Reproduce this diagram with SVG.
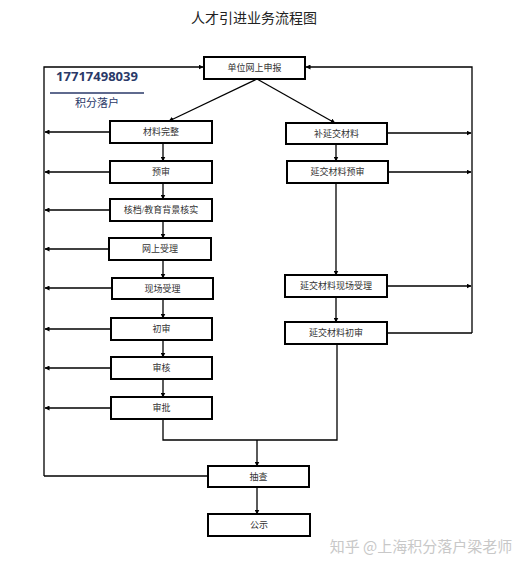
<svg xmlns="http://www.w3.org/2000/svg" width="528" height="566" viewBox="0 0 528 566">
<defs>
<marker id="ah" viewBox="0 0 10 10" refX="9" refY="5" markerWidth="5" markerHeight="5" orient="auto-start-reverse" markerUnits="userSpaceOnUse">
<path d="M0,0 L10,5 L0,10 z" fill="#000"/>
</marker>
<style>
.box{fill:#fff;stroke:#000;stroke-width:2}
.lbl{font-family:"Liberation Serif","Noto Sans CJK SC",serif;font-size:9px;fill:#333;text-anchor:middle;dominant-baseline:central}
.ln{fill:none;stroke:#000;stroke-width:1.3}
.arr{fill:none;stroke:#000;stroke-width:1.3;marker-end:url(#ah)}
</style>
</defs>
<rect width="528" height="566" fill="#fff"/>
<text x="254" y="18" font-family="Liberation Serif, Noto Sans CJK SC, serif" font-size="14" text-anchor="middle" dominant-baseline="central" fill="#222">人才引进业务流程图</text>
<g id="watermark1">
<text x="97" y="81" font-family="Open Sans, Liberation Sans, sans-serif" font-weight="bold" font-size="13" text-anchor="middle" fill="#2a3968">17717498039</text>
<line x1="50" y1="93" x2="144" y2="93" stroke="#2a3968" stroke-width="1.5"/>
<text x="97" y="102" font-family="Noto Sans CJK SC, sans-serif" font-size="11" text-anchor="middle" dominant-baseline="central" fill="#2a3968">积分落户</text>
</g>
<g id="connectors">
<polyline class="arr" points="44,476 44,67 203,67"/>
<polyline class="arr" points="472,333 472,67 306,67"/>
<line class="arr" x1="257" y1="79" x2="169" y2="121"/>
<line class="arr" x1="257" y1="79" x2="335" y2="123"/>
<line class="arr" x1="110" y1="132" x2="45" y2="132"/>
<line class="arr" x1="110" y1="172" x2="45" y2="172"/>
<line class="arr" x1="110" y1="210" x2="45" y2="210"/>
<line class="arr" x1="110" y1="249" x2="45" y2="249"/>
<line class="arr" x1="112" y1="288" x2="45" y2="288"/>
<line class="arr" x1="111" y1="329" x2="45" y2="329"/>
<line class="arr" x1="111" y1="368" x2="45" y2="368"/>
<line class="arr" x1="111" y1="408" x2="45" y2="408"/>
<line class="arr" x1="163" y1="143" x2="163" y2="161"/>
<line class="arr" x1="163" y1="183" x2="163" y2="199"/>
<line class="arr" x1="163" y1="221" x2="163" y2="238"/>
<line class="arr" x1="163" y1="260" x2="163" y2="278"/>
<line class="arr" x1="163" y1="299" x2="163" y2="318"/>
<line class="arr" x1="163" y1="340" x2="163" y2="357"/>
<line class="arr" x1="163" y1="379" x2="163" y2="397"/>
<line class="arr" x1="387" y1="133" x2="471" y2="133"/>
<line class="arr" x1="388" y1="172" x2="471" y2="172"/>
<line class="arr" x1="387" y1="286" x2="471" y2="286"/>
<line class="ln" x1="387" y1="333" x2="472" y2="333"/>
<line class="arr" x1="336" y1="144" x2="336" y2="161"/>
<line class="arr" x1="336" y1="183" x2="336" y2="275"/>
<line class="arr" x1="336" y1="297" x2="336" y2="322"/>
<polyline class="ln" points="163,419 163,440 337,440 337,344"/>
<line class="arr" x1="257" y1="440" x2="257" y2="466"/>
<line class="ln" x1="208" y1="476" x2="44" y2="476"/>
<line class="arr" x1="257" y1="487" x2="257" y2="514"/>
</g>
<g id="n-top"><rect class="box" x="204" y="57" width="101" height="22"/><text class="lbl" x="254.5" y="68">单位网上申报</text></g>
<g id="n-l1"><rect class="box" x="110" y="121" width="102" height="22"/><text class="lbl" x="161" y="132">材料完整</text></g>
<g id="n-l2"><rect class="box" x="110" y="161" width="102" height="22"/><text class="lbl" x="161" y="172">预审</text></g>
<g id="n-l3"><rect class="box" x="110" y="199" width="102" height="22"/><text class="lbl" x="161" y="210">核档/教育背景核实</text></g>
<g id="n-l4"><rect class="box" x="109" y="238" width="102" height="22"/><text class="lbl" x="160" y="249">网上受理</text></g>
<g id="n-l5"><rect class="box" x="112" y="278" width="101" height="21"/><text class="lbl" x="162.5" y="288.5">现场受理</text></g>
<g id="n-l6"><rect class="box" x="111" y="318" width="101" height="22"/><text class="lbl" x="161.5" y="329">初审</text></g>
<g id="n-l7"><rect class="box" x="111" y="357" width="101" height="22"/><text class="lbl" x="161.5" y="368">审核</text></g>
<g id="n-l8"><rect class="box" x="111" y="397" width="101" height="22"/><text class="lbl" x="161.5" y="408">审批</text></g>
<g id="n-r1"><rect class="box" x="286" y="123" width="101" height="21"/><text class="lbl" x="336.5" y="133.5">补延交材料</text></g>
<g id="n-r2"><rect class="box" x="287" y="161" width="101" height="22"/><text class="lbl" x="337.5" y="172">延交材料预审</text></g>
<g id="n-r3"><rect class="box" x="285" y="275" width="102" height="22"/><text class="lbl" x="336" y="286">延交材料现场受理</text></g>
<g id="n-r4"><rect class="box" x="285" y="322" width="102" height="22"/><text class="lbl" x="336" y="333">延交材料初审</text></g>
<g id="n-check"><rect class="box" x="208" y="466" width="101" height="21"/><text class="lbl" x="258.5" y="476.5">抽查</text></g>
<g id="n-pub"><rect class="box" x="208" y="514" width="102" height="22"/><text class="lbl" x="259" y="525">公示</text></g>
<text x="421" y="545" font-family="Noto Sans CJK SC, sans-serif" font-size="15" text-anchor="middle" dominant-baseline="central" fill="#c8c8c8">知乎 @上海积分落户梁老师</text>
</svg>
